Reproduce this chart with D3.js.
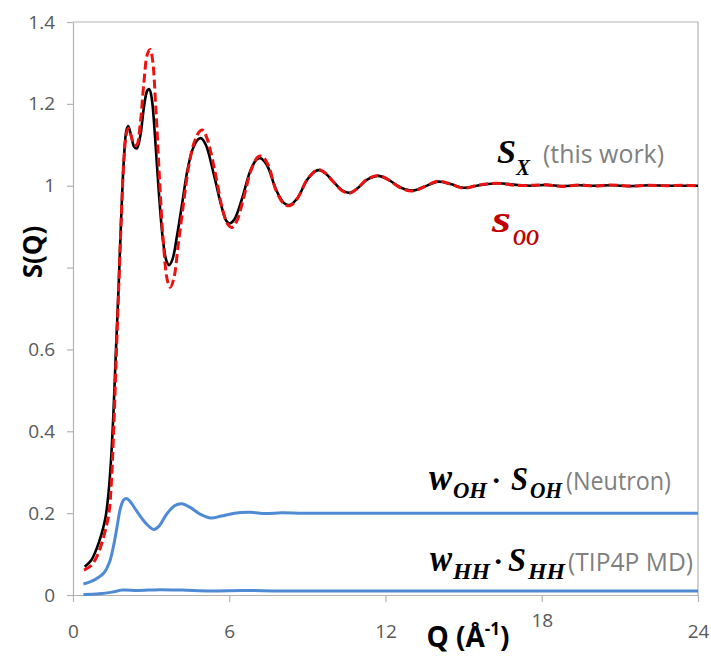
<!DOCTYPE html>
<html>
<head>
<meta charset="utf-8">
<script src="https://cdn.jsdelivr.net/npm/d3@7"></script>
<style>
  html, body { margin: 0; padding: 0; background: #fff; }
  svg { display: block; }
</style>
</head>
<body>
<svg id="chart" width="711" height="667"></svg>
<script>
// X-ray structure factor S_X and its partials, S(Q) vs Q (Å^-1)
const qX = [0.45,0.7,0.9,1.1,1.25,1.35,1.45,1.55,1.65,1.75,1.85,1.95,2.05,2.12,2.22,2.35,2.45,2.58,2.72,2.85,2.93,3.02,3.15,3.3,3.45,3.58,3.69,3.82,4.0,4.2,4.4,4.6,4.8,4.92,5.1,5.4,5.7,5.9,6.02,6.2,6.5,6.8,7.05,7.2,7.45,7.8,8.1,8.33,8.6,9.0,9.3,9.46,9.7,10.0,10.35,10.64,10.95,11.3,11.73,12.1,12.6,13.05,13.5,14.03,14.5,15.0,15.6,16.3,17.0,17.6,18.2,18.8,19.4,20.0,20.7,21.4,22.1,22.8,23.4,24.0];
const sX = [0.069,0.085,0.112,0.150,0.19,0.24,0.32,0.44,0.60,0.75,0.92,1.06,1.135,1.146,1.125,1.095,1.091,1.12,1.19,1.232,1.236,1.215,1.12,0.98,0.87,0.818,0.806,0.82,0.88,0.96,1.04,1.09,1.113,1.116,1.10,1.03,0.95,0.913,0.908,0.918,0.97,1.035,1.064,1.067,1.05,0.99,0.958,0.953,0.968,1.015,1.035,1.038,1.03,1.01,0.988,0.983,0.995,1.015,1.024,1.015,0.995,0.988,0.998,1.010,1.004,0.995,1.001,1.006,1.002,1.0,1.002,0.999,1.001,1.0,1.001,0.999,1.001,1.0,1.0,1.0];

const qOO = [0.42,0.7,0.9,1.1,1.25,1.38,1.47,1.56,1.66,1.76,1.86,1.96,2.06,2.13,2.22,2.35,2.45,2.58,2.72,2.85,2.96,3.05,3.18,3.32,3.47,3.62,3.73,3.86,4.05,4.25,4.45,4.65,4.85,4.97,5.15,5.45,5.75,5.95,6.1,6.3,6.55,6.85,7.1,7.25,7.5,7.8,8.1,8.33,8.6,9.0,9.3,9.46,9.7,10.0,10.35,10.64,10.95,11.3,11.73,12.1,12.6,13.05,13.5,14.03,14.5,15.0,15.6,16.3,17.0,17.6,18.2,18.8,19.4,20.0,20.7,21.4,22.1,22.8,23.4,24.0];
const sOO = [0.061,0.072,0.092,0.125,0.16,0.20,0.27,0.40,0.58,0.76,0.93,1.07,1.13,1.14,1.125,1.10,1.10,1.15,1.25,1.32,1.333,1.31,1.19,1.02,0.86,0.77,0.752,0.77,0.86,0.96,1.05,1.105,1.132,1.136,1.115,1.035,0.94,0.905,0.898,0.915,0.97,1.04,1.07,1.072,1.05,0.988,0.956,0.951,0.967,1.016,1.036,1.039,1.03,1.009,0.987,0.982,0.995,1.016,1.025,1.015,0.994,0.987,0.998,1.011,1.004,0.994,1.002,1.006,1.001,1.001,1.002,0.998,1.002,0.999,1.002,0.999,1.001,1.0,1.001,1.0];

const qOH = [0.4,0.7,1.0,1.2,1.4,1.55,1.7,1.82,1.94,2.05,2.2,2.5,2.8,3.1,3.3,3.6,3.9,4.17,4.5,4.9,5.3,5.7,6.2,6.8,7.4,8.0,8.8,10,12,14,16,18,20,22,24];
const sOH = [0.027,0.033,0.044,0.055,0.08,0.118,0.17,0.212,0.232,0.236,0.228,0.20,0.175,0.16,0.168,0.198,0.218,0.223,0.214,0.197,0.188,0.193,0.200,0.202,0.199,0.201,0.200,0.200,0.200,0.200,0.200,0.200,0.200,0.200,0.200];

const qHH = [0.4,1.0,1.5,1.9,2.5,3.3,4.2,5.3,6.5,8,10,12,14,16,18,20,22,24];
const sHH = [0.001,0.003,0.007,0.012,0.011,0.013,0.012,0.010,0.011,0.010,0.010,0.010,0.010,0.010,0.010,0.010,0.010,0.010];

const xTicks = [0, 6, 12, 18, 24];
const xTickLabels = ["0", "6", "12", "18", "24"];
const yTicks = [0, 0.2, 0.4, 0.6, 0.8, 1, 1.2, 1.4];
const yTickLabels = ["0", "0.2", "0.4", "0.6", "", "1", "1.2", "1.4"];

const svg = d3.select("#chart");
const plot = { left: 73, right: 698, top: 22, bottom: 595 };

const x = d3.scaleLinear().domain([0, 24]).range([plot.left, plot.right]);
const y = d3.scaleLinear().domain([0, 1.4]).range([plot.bottom, plot.top]);

const axisColor = "#b3b3b3";
const tickFont = "'Open Sans', sans-serif";

// plot frame (top and right edges)
svg.append("path")
  .attr("d", `M${plot.left},${plot.top}H${plot.right}V${plot.bottom}`)
  .attr("fill", "none").attr("stroke", axisColor).attr("stroke-width", 1.2);

// y axis
const yAxis = svg.append("g")
  .attr("transform", `translate(${plot.left},0)`)
  .call(d3.axisLeft(y).tickValues(yTicks).tickSize(6).tickSizeOuter(0)
    .tickPadding(12)
    .tickFormat((d, i) => yTickLabels[i]));
yAxis.select(".domain").attr("stroke", axisColor).attr("stroke-width", 1.2);
yAxis.selectAll(".tick line").attr("stroke", axisColor).attr("stroke-width", 1.2);
yAxis.selectAll(".tick text")
  .attr("fill", "#595959").style("font-family", tickFont).style("font-size", "19px");

// x axis
const xAxis = svg.append("g")
  .attr("transform", `translate(0,${plot.bottom})`)
  .call(d3.axisBottom(x).tickValues(xTicks).tickSize(7).tickSizeOuter(0)
    .tickFormat((d, i) => xTickLabels[i]));
xAxis.select(".domain").attr("stroke", axisColor).attr("stroke-width", 1.2);
xAxis.selectAll(".tick line").attr("stroke", axisColor).attr("stroke-width", 1.2);
xAxis.selectAll(".tick text")
  .attr("fill", "#595959").style("font-family", tickFont).style("font-size", "19px")
  .attr("dy", 0)
  .attr("y", d => d === 18 ? 32 : 43);

// axis titles
svg.append("text")
  .attr("transform", "translate(42,252) rotate(-90)")
  .attr("text-anchor", "middle")
  .style("font-family", tickFont).style("font-weight", "bold").style("font-size", "26px")
  .attr("fill", "#000")
  .text("S(Q)");

const xt = svg.append("text")
  .attr("x", 468).attr("y", 647)
  .attr("text-anchor", "middle")
  .style("font-family", tickFont).style("font-weight", "bold").style("font-size", "28px")
  .attr("fill", "#000");
xt.append("tspan").text("Q (Å");
xt.append("tspan").attr("dy", -12).style("font-size", "17px").text("-1");
xt.append("tspan").attr("dy", 12).text(")");

// curves
const line = d3.line().x(d => x(d[0])).y(d => y(d[1])).curve(d3.curveCatmullRom.alpha(0.5));
const zip = (qs, vs) => qs.map((q, i) => [q, vs[i]]);

const blue = "#4f8bd4";
svg.append("path").datum(zip(qHH, sHH)).attr("d", line)
  .attr("fill", "none").attr("stroke", blue).attr("stroke-width", 3);
svg.append("path").datum(zip(qOH, sOH)).attr("d", line)
  .attr("fill", "none").attr("stroke", blue).attr("stroke-width", 3);
svg.append("path").datum(zip(qX, sX)).attr("d", line)
  .attr("fill", "none").attr("stroke", "#000").attr("stroke-width", 2.6);
svg.append("path").datum(zip(qOO, sOO)).attr("d", line)
  .attr("fill", "none").attr("stroke", "#ee1111").attr("stroke-width", 3)
  .attr("stroke-dasharray", "9,4");

// series annotations
const mathFont = "'Liberation Serif', 'Times New Roman', serif";
function piece(g, str, px, py, size, opts = {}) {
  const t = g.append("text")
    .attr("x", px).attr("y", py)
    .style("font-size", size + "px")
    .style("font-family", opts.sans ? tickFont : mathFont)
    .style("font-style", opts.sans ? "normal" : "italic")
    .style("font-weight", opts.sans ? "normal" : "bold")
    .attr("fill", opts.fill || "#000")
    .attr("text-anchor", opts.anchor || "start")
    .text(str);
  if (opts.w) t.attr("textLength", opts.w).attr("lengthAdjust", "spacingAndGlyphs");
  return t;
}
const gray = "#808080";
const ann = svg.append("g");

// S_X (this work)
piece(ann, "S", 497, 163, 34, { w: 19 });
piece(ann, "X", 516, 175, 23, { w: 14 });
piece(ann, "(this work)", 543, 163, 26, { sans: true, fill: gray, w: 121 });

// s_OO
const dred = "#c00000";
piece(ann, "s", 492, 232, 37, { fill: dred, w: 19 });
piece(ann, "OO", 513, 245, 24, { fill: dred, w: 26 });

// w_OH · S_OH (Neutron)
piece(ann, "w", 429, 490, 37, { w: 23 });
piece(ann, "OH", 453, 498, 24, { w: 34 });
piece(ann, "·", 496, 490, 30, { anchor: "middle" });
piece(ann, "S", 511, 490, 34, { w: 17 });
piece(ann, "OH", 530, 498, 24, { w: 32 });
piece(ann, "(Neutron)", 566, 490, 26, { sans: true, fill: gray, w: 105 });

// w_HH · S_HH (TIP4P MD)
piece(ann, "w", 430, 571, 37, { w: 22 });
piece(ann, "HH", 453, 579, 24, { w: 37 });
piece(ann, "·", 498, 571, 30, { anchor: "middle" });
piece(ann, "S", 508, 571, 34, { w: 18 });
piece(ann, "HH", 528, 579, 24, { w: 37 });
piece(ann, "(TIP4P MD)", 568, 571, 26, { sans: true, fill: gray, w: 125 });
</script>
</body>
</html>
